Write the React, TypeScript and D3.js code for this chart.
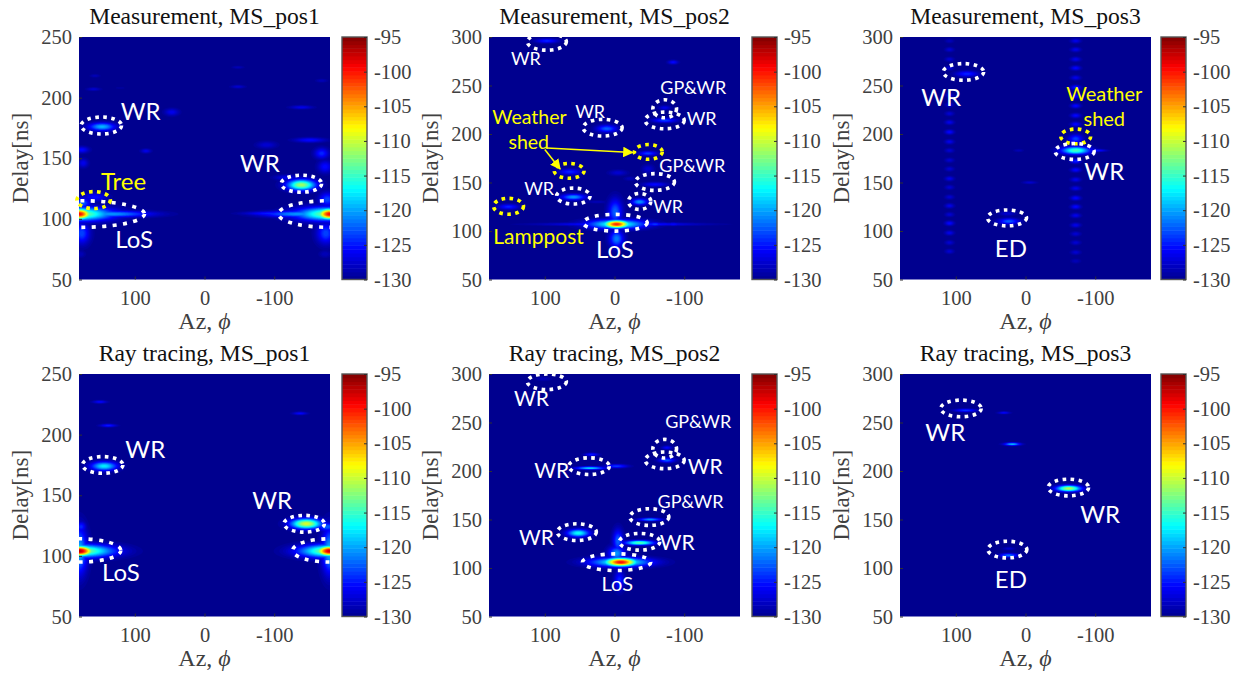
import React, { useEffect, useMemo, useRef } from "react";
import { axisBottom, axisLeft, axisRight, contours, geoPath, range, scaleLinear, select } from "d3";

// Spot rows: az [deg], delay [ns], peak [dB], az spread [deg], delay spread [ns]
type Spot = number[];
// Ring rows: az, delay, az radius, delay radius, 0 = white / 1 = yellow
type Ring = number[];
// Note rows: text, az, delay, font size, colour
type Note = [string, number, number, number, string];

const WHITE = "#ffffff";
const YELLOW = "#ffff00";

const titles = [
  "Measurement, MS_pos1", "Measurement, MS_pos2", "Measurement, MS_pos3",
  "Ray tracing, MS_pos1", "Ray tracing, MS_pos2", "Ray tracing, MS_pos3",
];
const delayTop = [250, 300, 300, 250, 300, 300];
const azTicks = [100, 0, -100];
const delayTicksShort = [50, 100, 150, 200, 250];
const delayTicksLong = [50, 100, 150, 200, 250, 300];
const barTicks = [-130, -125, -120, -115, -110, -105, -100, -95];

const measPos1Spots: Spot[] = [
  [180, 104, -99, 13, 3], [-180, 104, -99, 13, 3],
  [180, 104, -112, 33, 3.8], [-180, 104, -112, 33, 3.8],
  [135, 104, -120, 40, 1.8], [-135, 104, -120, 36, 1.8],
  [105, 104.5, -124, 28, 1], [-95, 104.5, -124, 26, 1],
  [176, 88, -123, 8, 6], [-174, 88, -123, 9, 6],
  [157, 118, -125, 12, 2.5], [176, 113, -122, 9, 3], [-176, 116, -123, 8, 4],
  [147, 176, -119, 13, 2.2], [-139, 128, -111, 14, 3],
  [-118, 134, -126, 12, 1.5], [47, 188, -126, 7, 2], [84, 156, -126, 5, 1.2],
  [-139, 192, -126, 11, 1], [-151, 165, -125, 15, 1.3], [-89, 161, -127, 10, 2],
  [159, 207, -127, 7, 0.9], [157, 218, -128, 5, 0.9], [-48, 225, -128, 6, 0.8],
  [-48, 209, -127, 7, 0.9], [121, 208, -129, 6, 0.7], [-168, 214, -128, 6, 1],
  [-168, 154, -124, 7, 3], [-173, 143, -125, 7, 3.5], [176, 157, -125, 7, 1.8],
  [174, 146, -126, 5, 2.5], [178, 71, -128, 5, 2], [-173, 71, -128, 6, 2],
];
const measPos2Spots: Spot[] = [
  [97, 296, -124, 11, 1.5], [11, 205.5, -122, 10, 2.5], [-72, 214, -123, 12, 1.5],
  [-72, 227, -126, 6, 1.5], [-84, 274, -125, 5, 1.4], [-48, 180, -123, 9, 1.5],
  [-48, 164, -127, 6, 3], [64, 161, -124, 11, 2], [-5, 160, -127, 9, 2],
  [-58, 148, -125, 12, 1.5], [-22, 154, -128, 6, 1.5], [59, 135, -120, 12, 2],
  [25, 130, -128, 11, 1], [-36, 130, -120, 8, 2.2], [152, 125, -124, 10, 1.8],
  [-3, 107, -100, 13, 2.6], [-3, 107, -115, 28, 3.2], [-10, 107, -123, 70, 1],
  [-1, 120, -122, 7, 9], [-3, 92, -121, 7, 6], [-58, 107, -123, 7, 1.2], [-84, 107, -125, 8, 1],
];
const measPos3Spots: Spot[] = [
  [84, 262, -124, 11, 2], [-72, 183, -114, 14, 2.6], [-103, 183, -124, 9, 0.8],
  [-72, 195, -123, 7, 3], [24, 110, -122, 10, 2], [26, 118, -127, 8, 1.5],
  [10, 183, -128, 5, 1], [-6, 150, -127, 7, 1],
];
// the two faint vertical stripes in MS_pos3 are rows of small blobs
const stripeLeftDelays = [296, 287, 277, 268, 240, 230, 221, 212, 202, 192, 183, 173, 164, 154, 145, 135, 126, 117, 108, 98, 88, 79];
const stripeLeftPeaks = [-128, -127, -127, -127, -127, -127, -127, -126, -125, -126, -127, -127, -127, -126, -127, -127, -126, -127, -125, -126, -127, -127];
const stripeRightDelays = [296, 287, 277, 268, 258, 248, 239, 229, 219, 210, 172, 163, 153, 144, 134, 125, 116, 106, 97, 88, 78, 69];
const stripeRightPeaks = [-126, -126, -126, -125, -126, -124, -125, -125, -125, -125, -124, -125, -126, -126, -125, -125, -126, -126, -127, -127, -127, -128];
const rayPos1Spots: Spot[] = [
  [180, 104, -96, 15, 2.8], [-180, 104, -97, 14, 2.8],
  [180, 104, -111, 34, 3.6], [-180, 104, -111, 30, 3.6],
  [180, 104, -119, 8, 13], [-180, 104, -119, 8, 13],
  [177, 124, -124, 5, 3], [-176, 124, -122, 10, 2.5],
  [144, 174, -117, 13, 2.5], [-146, 126.5, -109, 15, 2.8],
  [150, 227, -125, 7, 0.8], [138, 207.5, -124, 8, 0.8], [-137, 217.5, -125, 7, 0.8],
];
const rayPos2Spots: Spot[] = [
  [-9, 106, -99, 16, 2.8], [-9, 106, -115, 30, 3.2], [-36, 106, -124, 10, 1],
  [52, 136, -116, 11, 2.6], [-36, 126, -113, 14, 1.5], [-51, 150, -119, 11, 0.9],
  [35, 203, -117, 14, 0.9], [-3, 205, -123, 11, 1.2], [33, 217, -124, 7, 1],
  [-75, 211, -122, 8, 1.5], [-75, 224, -125, 5, 1.2], [-5, 128, -122, 5, 8],
  [-7, 87, -124, 5, 7], [-3, 115, -120, 8, 5], [102, 295, -128, 8, 1.5],
];
const rayPos3Spots: Spot[] = [
  [86, 262.5, -123, 11, 1], [31, 260, -125, 6, 0.8], [19, 227.7, -118, 8, 0.9],
  [-62, 182, -110, 12, 2], [24, 113, -121, 9, 1.3], [24, 120, -127, 6, 1],
];

const measPos1Rings: Ring[] = [
  [148, 177, 29, 7, 0], [-139, 129, 29, 7, 0], [159, 115.5, 24, 7, 1],
  [180, 104, 94, 11, 0], [-180, 104, 74, 11, 0],
];
const measPos2Rings: Ring[] = [
  [97, 295, 28, 8.6, 0], [17, 206.5, 28, 8.6, 0], [-72, 226, 17, 9.3, 0], [-72, 214, 28, 8.6, 0],
  [-48.5, 181.5, 20, 7.6, 1], [65, 162, 21.5, 7.6, 1], [-58, 150.5, 28, 8.6, 0], [59, 136, 24, 8.2, 0],
  [-36, 130.5, 16, 8.2, 0], [152, 125.5, 21.5, 8.2, 1], [-1, 108.5, 46, 8.6, 0],
];
const measPos3Rings: Ring[] = [
  [89, 264, 29, 8.6, 0], [-72, 197.5, 21.5, 7.6, 1], [-70.5, 182, 28, 8.2, 0], [26.5, 113.5, 28, 8.2, 0],
];
const rayPos1Rings: Ring[] = [
  [146, 175, 29, 6.9, 0], [-143, 126.5, 29, 6.9, 0], [180, 104.5, 60, 9.6, 0], [-180, 104.5, 53.5, 9.6, 0],
];
const rayPos2Rings: Ring[] = [
  [97, 292, 28, 8, 0], [-72, 223, 17, 9.6, 0], [-72, 211, 28, 8.6, 0], [36.5, 205, 29, 8.6, 0],
  [-50, 152.5, 28, 8.6, 0], [54, 137, 28, 8.6, 0], [-36, 127, 29, 8.6, 0], [-3, 106, 49, 8.6, 0],
];
const rayPos3Rings: Ring[] = [
  [92.5, 264.5, 29, 8.6, 0], [-61.5, 183, 29, 8.6, 0], [26, 119, 28, 8.6, 0],
];

const measPos1Notes: Note[] = [
  ["WR", 91.5, 189, 24, WHITE], ["WR", -79.5, 146, 24, WHITE],
  ["Tree", 116, 131, 24, YELLOW], ["LoS", 101, 83, 24, WHITE],
];
const measPos2Notes: Note[] = [
  ["WR", 127, 278, 18, WHITE], ["GP&WR", -113, 247.5, 18, WHITE], ["WR", -125, 216, 18, WHITE],
  ["WR", 35, 223.5, 18, WHITE], ["Weather", 122, 217.5, 19.5, YELLOW], ["shed", 123, 192, 19.5, YELLOW],
  ["GP&WR", -111.5, 167, 18, WHITE], ["WR", 108, 144, 18, WHITE], ["WR", -77, 125, 18, WHITE],
  ["Lamppost", 109, 94, 21, YELLOW], ["LoS", -0.5, 81, 24, WHITE],
];
const measPos3Notes: Note[] = [
  ["WR", 121, 237.5, 24, WHITE], ["Weather", -113, 241, 20, YELLOW], ["shed", -113, 216, 20, YELLOW],
  ["WR", -113, 162, 24, WHITE], ["ED", 21, 82, 24, WHITE],
];
const rayPos1Notes: Note[] = [
  ["WR", 85, 187.5, 24, WHITE], ["WR", -97, 145.5, 24, WHITE], ["LoS", 120, 86, 24, WHITE],
];
const rayPos2Notes: Note[] = [
  ["WR", 119, 275, 21, WHITE], ["GP&WR", -120, 251.5, 18, WHITE], ["WR", -130, 205, 21, WHITE],
  ["GP&WR", -109, 169, 18, WHITE], ["WR", 90, 201, 21, WHITE], ["WR", 112, 131, 21, WHITE],
  ["WR", -90, 126, 21, WHITE], ["LoS", -4, 83.5, 20, WHITE],
];
const rayPos3Notes: Note[] = [
  ["WR", 115, 240, 24, WHITE], ["WR", -107, 155, 24, WHITE], ["ED", 21, 88, 24, WHITE],
];

// arrows from the "Weather shed" label in measurement MS_pos2: az1, delay1, az2, delay2
const measPos2Arrows = [
  [97, 185.5, -26, 181],
  [100, 184, 78, 164],
];

const allSpots: Spot[][] = [
  measPos1Spots,
  measPos2Spots,
  [
    ...measPos3Spots,
    ...stripeLeftDelays.map((d, i) => [109, d, stripeLeftPeaks[i], 4.5, 1.6]),
    ...stripeRightDelays.map((d, i) => [-72, d, stripeRightPeaks[i], 5, 1.6]),
  ],
  rayPos1Spots,
  rayPos2Spots,
  rayPos3Spots,
];
const allRings = [measPos1Rings, measPos2Rings, measPos3Rings, rayPos1Rings, rayPos2Rings, rayPos3Rings];
const allNotes = [measPos1Notes, measPos2Notes, measPos3Notes, rayPos1Notes, rayPos2Notes, rayPos3Notes];

const plotLeft = [79, 489, 900];
const barLeft = [342, 752, 1161];
const plotTop = [37, 374];
const plotW = 251;
const plotH = 242.5;
const barW = 25;
const nx = 251;
const ny = 243;
const SERIF = "'Liberation Serif', serif";
const LABEL_FONT = "Lato, sans-serif";
const AXIS_TEXT = "#404040";

const jet = scaleLinear<string>()
  .domain([0, 0.125, 0.375, 0.625, 0.875, 1].map((t) => -130 + 35 * t))
  .range(["#00008f", "#0000ff", "#00ffff", "#ffff00", "#ff0000", "#800000"])
  .clamp(true);

const levels = range(-129.5, -94.9, 0.5);

function styleAxis(g: any) {
  g.selectAll("text").attr("fill", AXIS_TEXT).style("font-family", SERIF).style("font-size", "20.5px");
  g.selectAll("line").attr("stroke", "#303030");
  g.select(".domain").attr("stroke", "none");
}

function Panel({ index }: { index: number }) {
  const col = index % 3;
  const row = index < 3 ? 0 : 1;
  const left = plotLeft[col];
  const top = plotTop[row];
  const yMax = delayTop[index];
  const xAxisRef = useRef<SVGGElement>(null);
  const yAxisRef = useRef<SVGGElement>(null);
  const barAxisRef = useRef<SVGGElement>(null);

  const x = scaleLinear().domain([180, -180]).range([0, plotW]);
  const y = scaleLinear().domain([50, yMax]).range([plotH, 0]);
  const bar = scaleLinear().domain([-130, -95]).range([plotH, 0]);

  const shapes = useMemo(() => {
    const gx = scaleLinear().domain([0, nx]).range([180, -180]);
    const gy = scaleLinear().domain([0, ny]).range([yMax, 50]);
    const spots = allSpots[index];
    const values = new Float64Array(nx * ny);
    for (let j = 0; j < ny; j++) {
      const delay = gy(j + 0.5);
      for (let i = 0; i < nx; i++) {
        const az = gx(i + 0.5);
        let v = -130;
        for (const [sa, sd, peak, wa, wd] of spots) {
          const da = (az - sa) / wa;
          const dd = (delay - sd) / wd;
          const e = da * da + dd * dd;
          if (e > 30) continue;
          const level = -130 + (peak + 130) * Math.exp(-0.5 * e);
          if (level > v) v = level;
        }
        values[j * nx + i] = v;
      }
    }
    const path = geoPath();
    return contours().size([nx, ny]).thresholds(levels)(values as any).map((c) => ({ value: c.value, d: path(c as any) || "" }));
  }, [index, yMax]);

  useEffect(() => {
    const xg = select(xAxisRef.current as any);
    xg.call(axisBottom(x).tickValues(azTicks).tickFormat(String as any).tickSizeInner(-3).tickSizeOuter(0).tickPadding(11) as any);
    styleAxis(xg);
    const yg = select(yAxisRef.current as any);
    yg.call(axisLeft(y).tickValues(yMax === 250 ? delayTicksShort : delayTicksLong).tickFormat(String as any).tickSizeInner(-3).tickSizeOuter(0).tickPadding(7) as any);
    styleAxis(yg);
    const bg = select(barAxisRef.current as any);
    bg.call(axisRight(bar).tickValues(barTicks).tickFormat(String as any).tickSizeInner(-3).tickSizeOuter(0).tickPadding(7) as any);
    styleAxis(bg);
  }, [index]);

  const clipId = `plot-clip-${index}`;
  const arrows = index === 1 ? measPos2Arrows : [];
  const barSteps = range(64);

  return (
    <g>
      <clipPath id={clipId}>
        <rect x={-4} y={0} width={plotW + 4} height={plotH} />
      </clipPath>
      <text x={left + plotW / 2} y={top - 13} textAnchor="middle" fontFamily={SERIF} fontSize={23.6} fill="#111">
        {titles[index]}
      </text>
      <g transform={`translate(${left},${top})`}>
        <rect width={plotW} height={plotH} fill={jet(-130)} />
        <g transform={`scale(${plotW / nx},${plotH / ny})`}>
          {shapes.map((s) => (
            <path key={s.value} d={s.d} fill={jet(s.value)} />
          ))}
        </g>
        <g clipPath={`url(#${clipId})`}>
          {allRings[index].map((r, i) => (
            <ellipse
              key={i}
              cx={x(r[0])}
              cy={y(r[1])}
              rx={x(0) - x(r[2])}
              ry={y(0) - y(r[3])}
              fill="none"
              stroke={r[4] ? YELLOW : WHITE}
              strokeWidth={3.6}
              strokeDasharray={r[2] > 45 ? "4 6.4" : "3.6 4.4"}
            />
          ))}
        </g>
        {arrows.map((a, i) => (
          <line
            key={i}
            x1={x(a[0])}
            y1={y(a[1])}
            x2={x(a[2])}
            y2={y(a[3])}
            stroke={YELLOW}
            strokeWidth={1.5}
            markerEnd="url(#arrow-head)"
          />
        ))}
        {allNotes[index].map((n, i) => (
          <text
            key={i}
            x={x(n[1])}
            y={y(n[2])}
            dy="0.36em"
            textAnchor="middle"
            fontFamily={LABEL_FONT}
            fontSize={n[3]}
            fill={n[4]}
          >
            {n[0]}
          </text>
        ))}
        <g ref={xAxisRef} transform={`translate(0,${plotH})`} />
        <g ref={yAxisRef} />
        <text
          transform={`translate(-58,${plotH / 2}) rotate(-90)`}
          dy="0.3em"
          textAnchor="middle"
          fontFamily={SERIF}
          fontSize={23}
          fill={AXIS_TEXT}
        >
          Delay[ns]
        </text>
        <text x={plotW / 2} y={plotH + 49} textAnchor="middle" fontFamily={SERIF} fontSize={24} fill={AXIS_TEXT}>
          Az, <tspan fontStyle="italic">ϕ</tspan>
        </text>
      </g>
      <g transform={`translate(${barLeft[col]},${top})`}>
        {barSteps.map((k) => (
          <rect
            key={k}
            x={0}
            y={bar(-130 + (35 * (k + 1)) / 64)}
            width={barW}
            height={plotH / 64 + 0.5}
            fill={jet(-130 + (35 * (k + 0.5)) / 64)}
          />
        ))}
        <rect width={barW} height={plotH} fill="none" stroke="#555" strokeWidth={1.4} />
        <g ref={barAxisRef} transform={`translate(${barW},0)`} />
      </g>
    </g>
  );
}

export default function App() {
  return (
    <svg width={1237} height={677} style={{ position: "absolute", left: 0, top: 0, background: "#fff" }}>
      <defs>
        <marker id="arrow-head" viewBox="0 0 10 10" refX="9" refY="5" markerWidth="7" markerHeight="7" orient="auto-start-reverse">
          <path d="M0,0 L10,5 L0,10 Z" fill={YELLOW} />
        </marker>
      </defs>
      {titles.map((_, i) => (
        <Panel key={i} index={i} />
      ))}
    </svg>
  );
}
